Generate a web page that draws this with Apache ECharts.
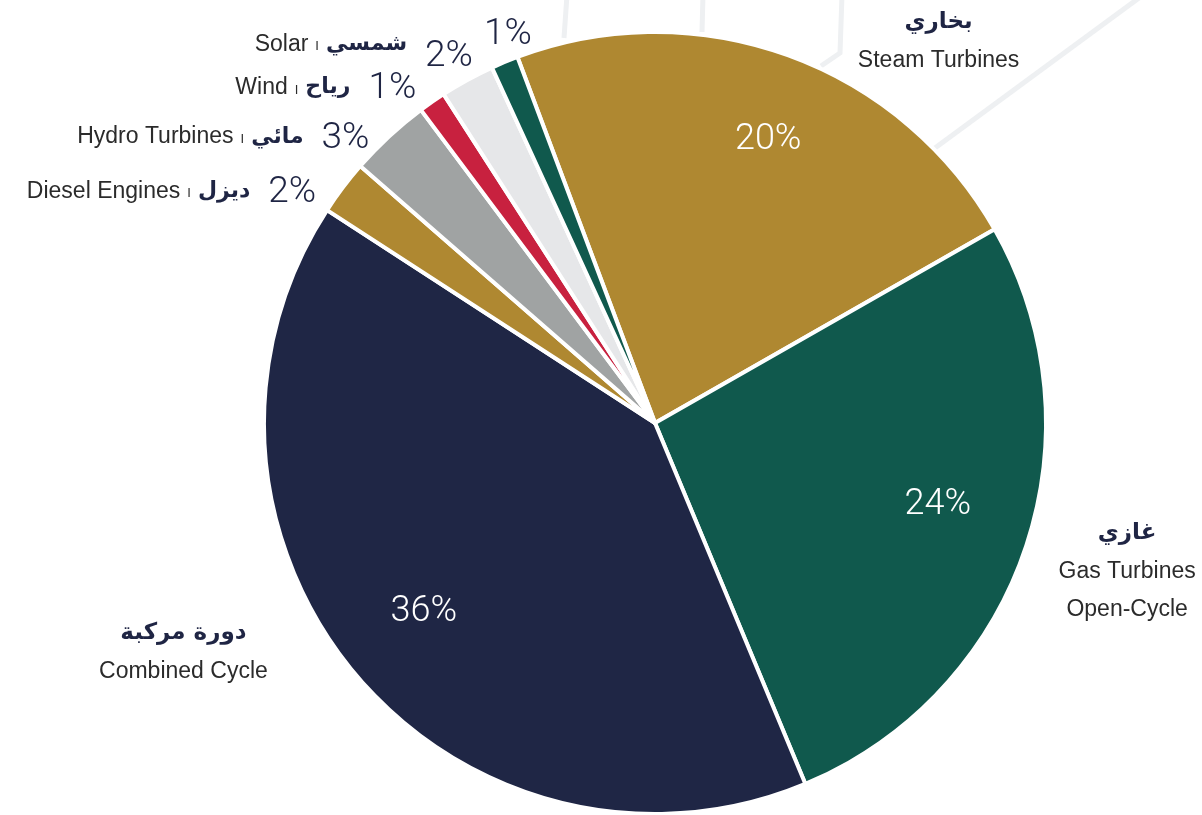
<!DOCTYPE html>
<html>
<head>
<meta charset="utf-8">
<title>Generation mix</title>
<script src="https://cdn.jsdelivr.net/npm/echarts@6/dist/echarts.min.js"></script>
<style>
    html, body { margin: 0; padding: 0; background: #fff; }
    #chart { width: 1202px; height: 815px; }
</style>
</head>
<body>
<div id="chart"></div>
<script>
// shares as printed on the chart (%), clockwise from the top
const shares = [20, 24, 36, 2, 3, 1, 2, 1];
const arNames = ["بخاري", "غازي", "دورة مركبة", "ديزل", "مائي", "رياح", "شمسي", ""];
const enNames = ["Steam Turbines", "Gas Turbines\nOpen-Cycle", "Combined Cycle", "Diesel Engines", "Hydro Turbines", "Wind", "Solar", ""];
const sliceColors = ["#AF8831", "#10594D", "#1F2645", "#AF8831", "#A0A3A3", "#C8213F", "#E6E7E9", "#10594D"];
const bigSlice = [true, true, true, false, false, false, false, false];

// label placement tweaks (label line is hidden, only used to push the labels)
const lineLen = [15, 66, -34, -4, 1, 19, 30, 33];
const lineLen2 = [60, -34, 108, 25, 14, 0, -25, -45];
// small nudges for the percentages printed inside the big slices
const innerDx = [11, -2, 0, 0, 0, 0, 0, 0];
const innerDy = [0, -15, -4, 0, 0, 0, 0, 0];

const navy = "#1F2544";
const textGrey = "#2B2B2B";

function outsideLabel(i) {
    if (bigSlice[i]) {
        let en = enNames[i].split("\n").map(s => "{en|" + s + "}").join("\n");
        return "{ar|" + arNames[i] + "}\n" + en;
    }
    if (!enNames[i]) return "{pct|" + shares[i] + "%}";
    let up = i == 6 ? "Up" : "";
    return "{nm" + up + "|" + enNames[i] + "}{sep" + up + "|I}{ar" + up + "S|" + arNames[i] + "}{pct|" + shares[i] + "%}";
}

let chart = echarts.init(document.getElementById("chart"));

let mainData = shares.map((v, i) => ({
    name: enNames[i] || "other",
    value: v,
    itemStyle: { color: sliceColors[i] },
    labelLine: { show: false, length: lineLen[i], length2: lineLen2[i] },
}));

let overlayData = shares.map((v, i) => ({
    name: enNames[i] || "other",
    value: v,
    label: { show: bigSlice[i] },
}));

let option = {
    backgroundColor: "#fff",
    animation: false,
    graphic: [
        { type: "polyline", z: 0, shape: { points: [[567, -5], [564, 38]] }, style: { stroke: "#EEF0F2", lineWidth: 5, fill: null } },
        { type: "polyline", z: 0, shape: { points: [[703, -5], [702, 32]] }, style: { stroke: "#EEF0F2", lineWidth: 5, fill: null } },
        { type: "polyline", z: 0, shape: { points: [[842, -5], [840, 53], [821, 66]] }, style: { stroke: "#EEF0F2", lineWidth: 5, fill: null } },
        { type: "polyline", z: 0, shape: { points: [[1143, -5], [935, 148]] }, style: { stroke: "#EEF0F2", lineWidth: 5, fill: null } },
    ],
    series: [
        {
            name: "mix",
            type: "pie",
            center: [655, 423],
            radius: [0, 391],
            startAngle: 110.6,
            clockwise: true,
            avoidLabelOverlap: false,
            labelLayout: { hideOverlap: false },
            itemStyle: { borderColor: "#fff", borderWidth: 4 },
            emphasis: { disabled: true },
            label: {
                show: true,
                position: "outside",
                formatter: (p) => outsideLabel(p.dataIndex),
                rich: {
                    ar: { fontSize: 23, fontWeight: "bold", color: navy, lineHeight: 40, align: "center", fontFamily: "DejaVu Sans" },
                    en: { fontSize: 23, color: textGrey, lineHeight: 38, align: "center", fontFamily: "Liberation Sans" },
                    nm: { fontSize: 23, color: textGrey, padding: [3, 0, 0, 0], fontFamily: "Liberation Sans" },
                    sep: { fontSize: 13, color: textGrey, padding: [8, 7, 0, 7], fontFamily: "Liberation Sans" },
                    arS: { fontSize: 22, fontWeight: "bold", color: navy, padding: [3, 0, 0, 0], fontFamily: "DejaVu Sans" },
                    nmUp: { fontSize: 23, color: textGrey, padding: [0, 0, 18, 0], fontFamily: "Liberation Sans" },
                    sepUp: { fontSize: 13, color: textGrey, padding: [0, 7, 14, 7], fontFamily: "Liberation Sans" },
                    arUpS: { fontSize: 22, fontWeight: "bold", color: navy, padding: [0, 0, 18, 0], fontFamily: "DejaVu Sans" },
                    pct: { fontSize: 37, fontWeight: 300, color: navy, padding: [6, 0, 0, 18], fontFamily: "Roboto" },
                },
            },
            data: mainData,
        },
        {
            name: "inner labels",
            type: "pie",
            center: [655, 423],
            radius: [205, 391],
            startAngle: 110.6,
            clockwise: true,
            silent: true,
            itemStyle: { color: "rgba(0,0,0,0)", borderWidth: 0 },
            label: {
                position: "inside",
                formatter: "{c}%",
                color: "#fff",
                fontSize: 36,
                fontWeight: 300,
                fontFamily: "Roboto",
            },
            labelLayout: (p) => ({ dx: innerDx[p.dataIndex], dy: innerDy[p.dataIndex] }),
            labelLine: { show: false },
            data: overlayData,
        },
    ],
};

chart.setOption(option);
</script>
</body>
</html>
